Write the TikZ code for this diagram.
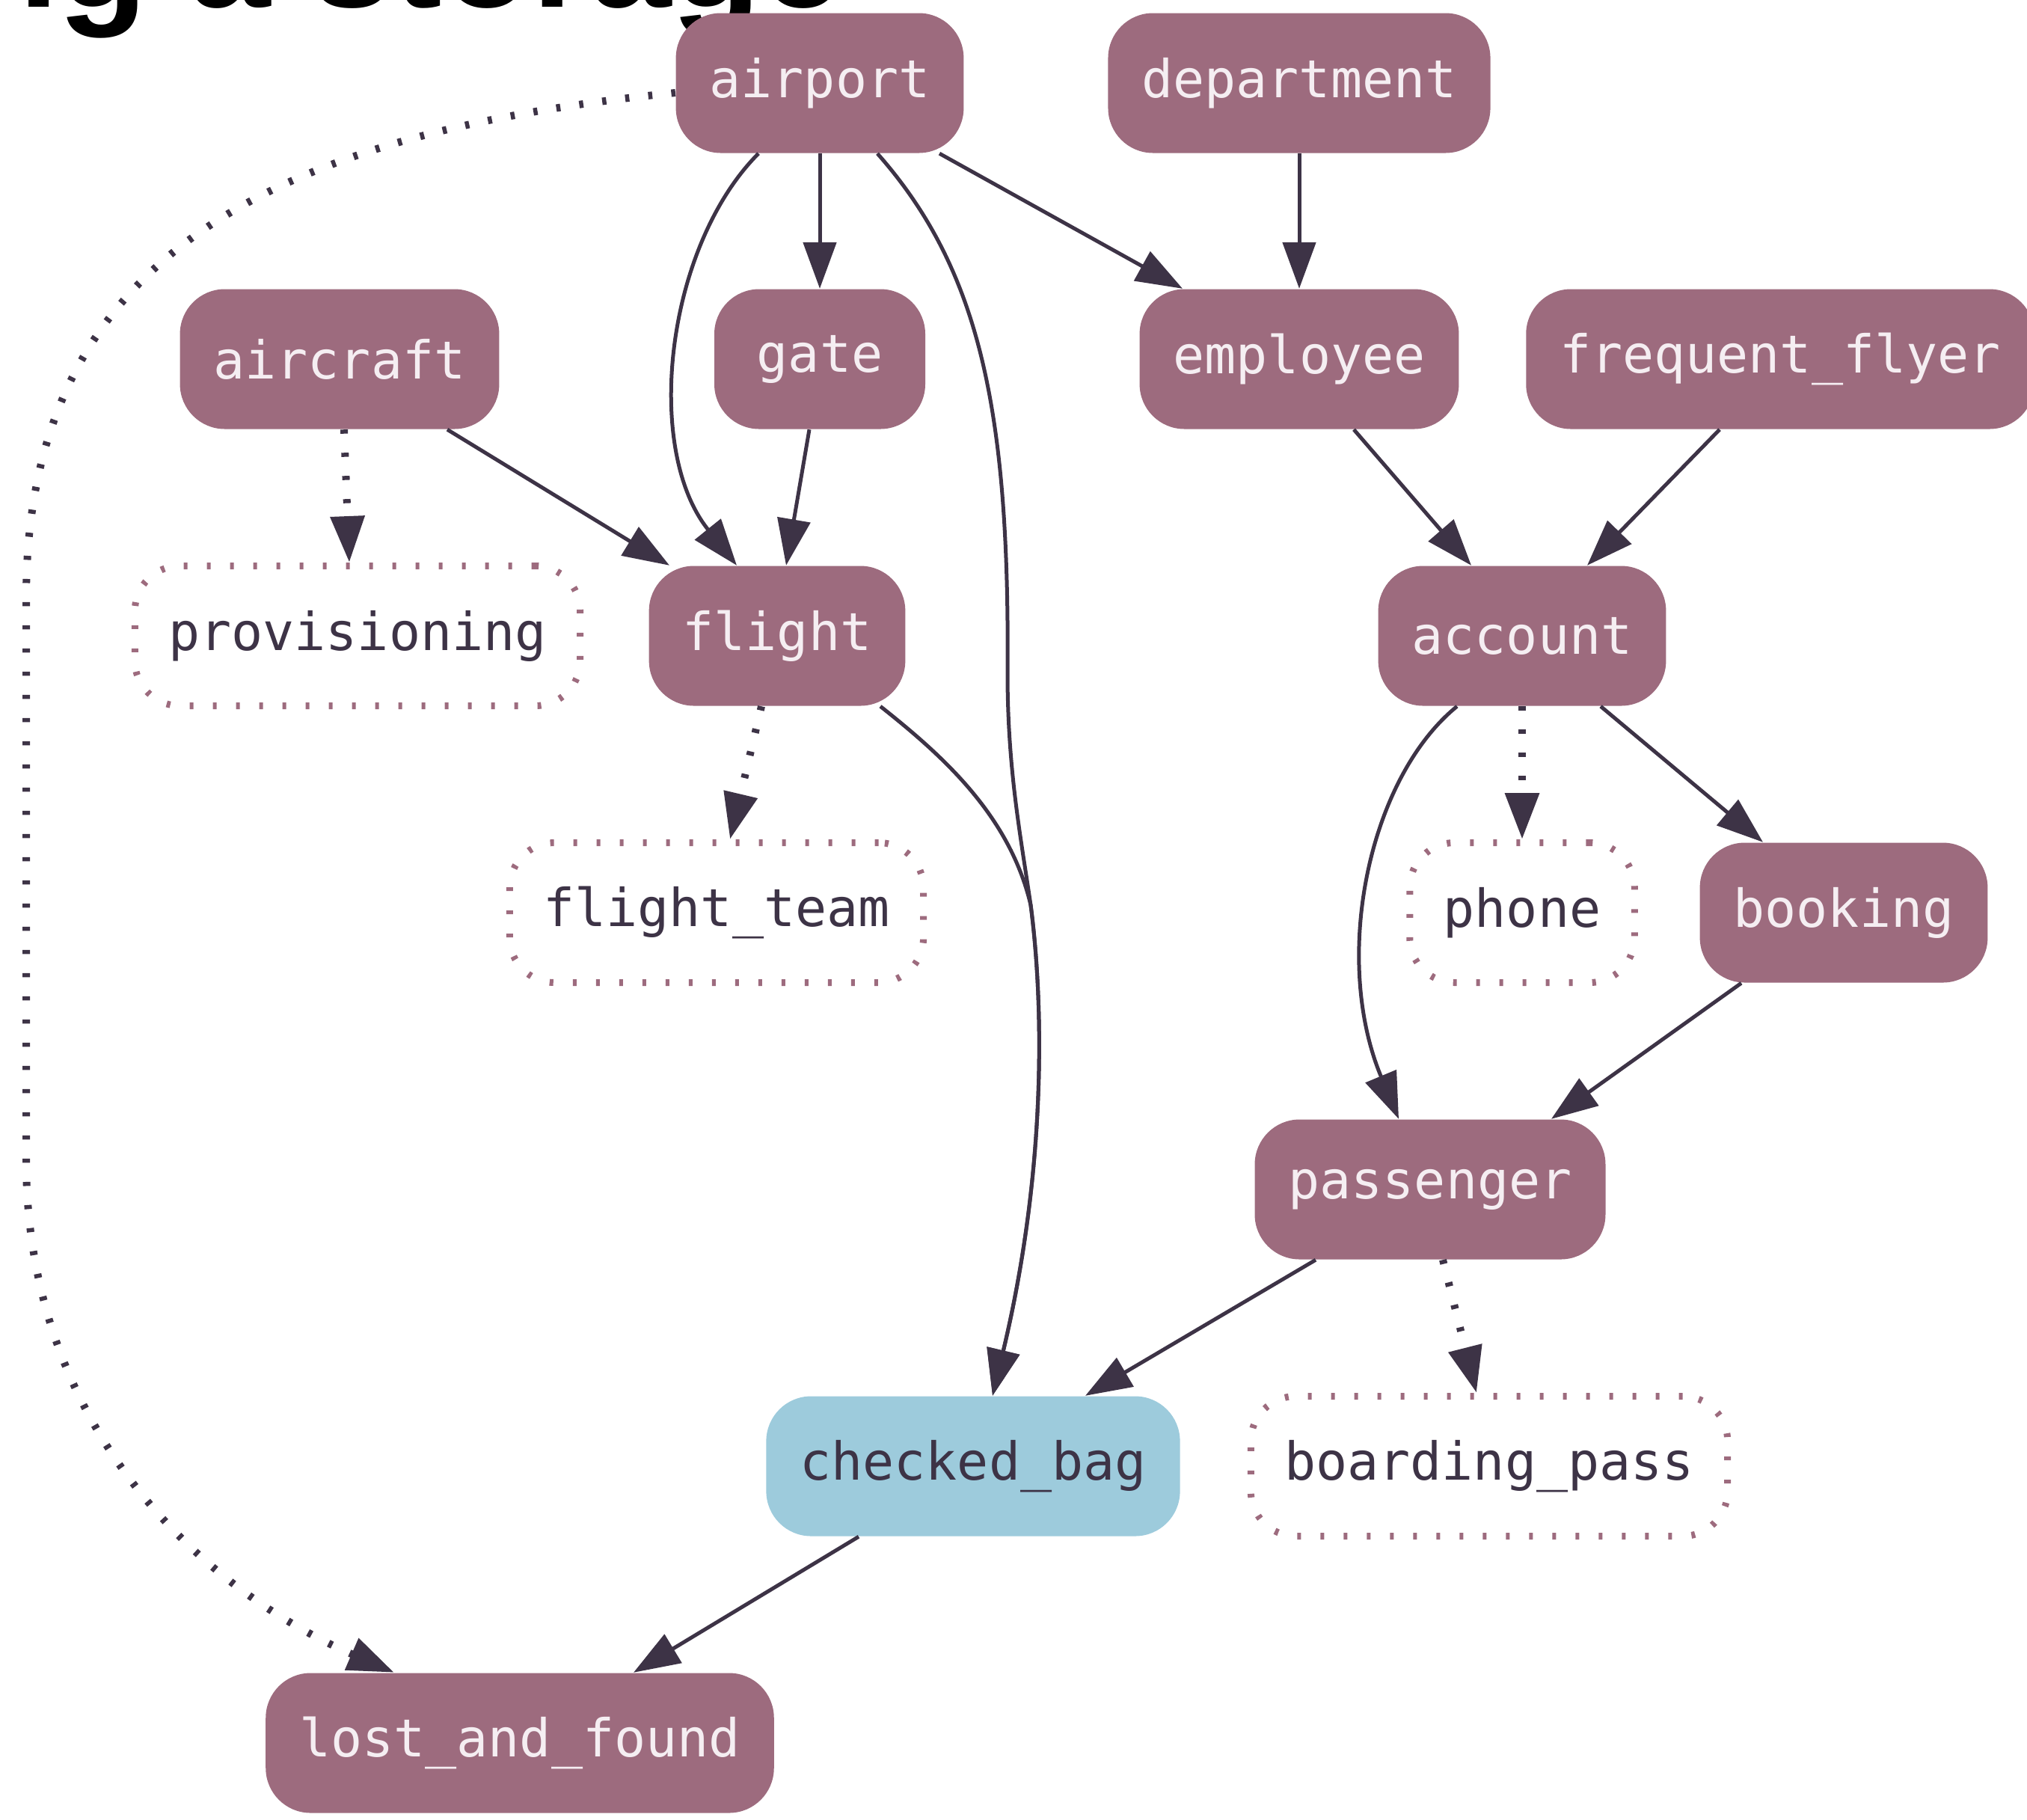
\documentclass[tikz,border=0pt]{standalone}
\usepackage{fontspec}
\setmonofont{DejaVu Sans Mono}
\newfontfamily\titlefont{Liberation Sans}
\usetikzlibrary{arrows.meta}
\definecolor{mauve}{HTML}{9D6B7E}
\definecolor{pale}{HTML}{F5EEF2}
\definecolor{ink}{HTML}{3D3346}
\definecolor{sky}{HTML}{9DCBDC}

\begin{document}
\begin{tikzpicture}[
  tbl/.style={fill=mauve, text=pale, rounded corners=0.6cm, minimum height=1.87cm, minimum width=2.82cm, inner xsep=0.45cm, font=\ttfamily\fontsize{19.9}{24}\selectfont},
  view/.style={tbl, fill=none, draw=mauve, text=ink, line width=0.09cm, dash pattern=on 0.05cm off 0.26cm},
  hot/.style={tbl, fill=sky, text=ink},
  link/.style={draw=ink, line width=0.05cm, -{Triangle[length=0.62cm,width=0.44cm]}},
  dotlink/.style={link, line width=0.1cm, dash pattern=on 0.055cm off 0.255cm}]
  \useasboundingbox (0,0) rectangle (27.10,-24.32);
  \node[anchor=base east, font=\titlefont\bfseries\fontsize{56}{60}\selectfont] (title) at (11.40,-0.09) {ng a storage};

  \node[tbl] (airport) at (10.96,-1.11) {airport};
  \node[tbl] (department) at (17.37,-1.11) {department};
  \node[tbl] (aircraft) at (4.54,-4.80) {aircraft};
  \node[tbl] (gate) at (10.96,-4.80) {gate};
  \node[tbl] (employee) at (17.37,-4.80) {employee};
  \node[tbl] (frequent) at (23.80,-4.80) {frequent\_flyer};
  \node[view] (provisioning) at (4.78,-8.50) {provisioning};
  \node[tbl] (flight) at (10.39,-8.50) {flight};
  \node[tbl] (account) at (20.35,-8.50) {account};
  \node[view] (flightteam) at (9.58,-12.20) {flight\_team};
  \node[view] (phone) at (20.35,-12.20) {phone};
  \node[tbl] (booking) at (24.65,-12.20) {booking};
  \node[tbl] (passenger) at (19.12,-15.90) {passenger};
  \node[hot] (checkedbag) at (13.01,-19.60) {checked\_bag};
  \node[view] (boardingpass) at (19.91,-19.60) {boarding\_pass};
  \node[tbl] (lostfound) at (6.95,-23.30) {lost\_and\_found};

  \draw[link] ([xshift=-0.82cm]airport.south) .. controls (8.9,-3.3) and (8.6,-6.0) .. ([xshift=-0.54cm]flight.north);
  \draw[link] (airport.south) -- (gate.north);
  \draw[link] ([xshift=0.77cm]airport.south) .. controls (13.1,-3.6) and (13.5,-5.5) .. (13.47,-9.0)
    .. controls (13.47,-10.3) and (13.65,-11.2) .. (13.78,-12.1)
    .. controls (13.95,-13.4) and (14.0,-15.6) .. ([xshift=0.26cm]checkedbag.north);
  \draw[link] ([xshift=1.60cm]airport.south) -- ([xshift=-1.56cm]employee.north);
  \draw[link] (department.south) -- (employee.north);
  \draw[dotlink] ([xshift=0.06cm]aircraft.south) -- ([xshift=-0.11cm]provisioning.north);
  \draw[link] ([xshift=1.44cm]aircraft.south) -- ([xshift=-1.44cm]flight.north);
  \draw[link] ([xshift=-0.14cm]gate.south) -- ([xshift=0.12cm]flight.north);
  \draw[link] ([xshift=0.73cm]employee.south) -- ([xshift=-0.68cm]account.north);
  \draw[link] ([xshift=-0.81cm]frequent.south) -- ([xshift=0.87cm]account.north);
  \draw[dotlink] ([xshift=-0.21cm]flight.south) -- ([xshift=0.18cm]flightteam.north);
  \draw[link] ([xshift=1.38cm]flight.south) .. controls (12.6,-10.1) and (13.5,-10.9) .. (13.78,-12.1)
    .. controls (13.95,-13.4) and (14.0,-15.6) .. ([xshift=0.26cm]checkedbag.north);
  \draw[link] ([xshift=-0.87cm]account.south) .. controls (18.3,-10.4) and (17.8,-12.8) .. ([xshift=-0.42cm]passenger.north);
  \draw[dotlink] (account.south) -- (phone.north);
  \draw[link] ([xshift=1.05cm]account.south) -- ([xshift=-1.08cm]booking.north);
  \draw[link] ([xshift=-1.37cm]booking.south) -- ([xshift=1.62cm]passenger.north);
  \draw[link] ([xshift=-1.53cm]passenger.south) -- ([xshift=1.50cm]checkedbag.north);
  \draw[dotlink] ([xshift=0.17cm]passenger.south) -- ([xshift=-0.17cm]boardingpass.north);
  \draw[link] ([xshift=-1.53cm]checkedbag.south) -- ([xshift=1.52cm]lostfound.north);
  \draw[dotlink] ([yshift=-0.13cm]airport.west) .. controls (3.5,-1.8) and (0.35,-3.5) .. (0.35,-8.0)
    -- (0.35,-15.5) .. controls (0.35,-19.0) and (2.6,-21.2) .. ([xshift=-1.68cm]lostfound.north);
\end{tikzpicture}
\end{document}
